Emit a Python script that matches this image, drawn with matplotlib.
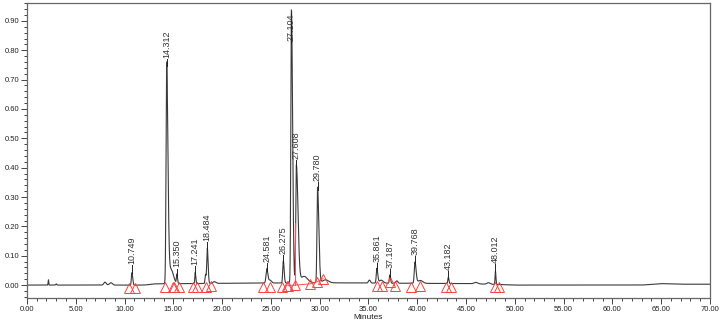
import numpy as np
import matplotlib
matplotlib.use("Agg")
import matplotlib.pyplot as plt
from matplotlib.ticker import MultipleLocator, FormatStrFormatter

plt.rcParams['font.family'] = ['Liberation Sans', 'DejaVu Sans']

# labelled peaks: retention time, height (AU), left / right width (min)
peak_rt = [10.749, 14.312, 15.350, 17.241, 18.484, 24.581, 26.275, 27.104,
           27.608, 29.780, 35.861, 37.187, 39.768, 43.182, 48.012]
peak_h = [0.042, 0.745, 0.030, 0.038, 0.120, 0.048, 0.075, 0.930,
          0.400, 0.325, 0.050, 0.028, 0.072, 0.022, 0.045]
peak_wl = [0.05, 0.06, 0.04, 0.04, 0.06, 0.08, 0.06, 0.06,
           0.06, 0.06, 0.06, 0.05, 0.07, 0.05, 0.04]
peak_wr = [0.08, 0.13, 0.07, 0.06, 0.08, 0.10, 0.08, 0.12,
           0.17, 0.13, 0.09, 0.07, 0.11, 0.06, 0.05]

# unlabelled bumps / tails / noise
bump_rt = [2.2, 3.0, 8.0, 8.6, 14.75, 18.3, 19.2, 24.9, 28.4, 30.6, 35.1,
           36.3, 37.9, 40.3, 46.0, 47.3]
bump_h = [0.018, 0.004, 0.010, 0.008, 0.050, 0.030, 0.006, 0.010, 0.022, 0.010,
          0.010, 0.010, 0.008, 0.010, 0.005, 0.005]
bump_w = [0.03, 0.05, 0.12, 0.15, 0.25, 0.05, 0.15, 0.15, 0.35, 0.3, 0.1,
          0.2, 0.1, 0.25, 0.2, 0.15]

# baseline drift
base_t = [0, 12, 13, 20, 30, 45, 48.5, 50, 63, 65, 67, 70]
base_v = [0.0, 0.0, 0.004, 0.006, 0.008, 0.005, 0.002, 0.0, 0.0, 0.005, 0.003, 0.003]

# integration marks (start / end of each peak)
tri_t = [10.5, 11.05, 14.15, 15.0, 15.05, 15.55, 17.0, 17.45, 18.4, 18.9,
         24.2, 24.9, 26.1, 26.7, 26.75, 27.45, 29.0, 29.7, 30.35,
         35.84, 36.35, 37.2, 37.7, 39.4, 40.28, 42.95, 43.5, 47.97, 48.4]
tri_y = [-0.010, -0.010, -0.007, -0.007, -0.007, -0.007, -0.008, -0.008, -0.005, -0.004,
         -0.006, -0.006, -0.006, -0.004, -0.002, 0.0, 0.004, 0.011, 0.022,
         -0.004, -0.004, 0.010, -0.004, -0.005, -0.002, -0.005, -0.005, -0.008, -0.008]

t = np.linspace(0, 70, 14001)
sig = np.interp(t, base_t, base_v)
for rt, h, wl, wr in zip(peak_rt, peak_h, peak_wl, peak_wr):
    w = np.where(t < rt, wl, wr)
    sig += h * np.exp(-0.5 * ((t - rt) / w) ** 2)
for rt, h, w in zip(bump_rt, bump_h, bump_w):
    sig += h * np.exp(-0.5 * ((t - rt) / w) ** 2)

fig = plt.figure(figsize=(7.21, 3.26), dpi=100)
ax = fig.add_axes([0.0374, 0.0859, 0.9473, 0.9049])

ax.plot(t, sig, color='#3a3a3a', lw=0.8)

# red baseline under the big pair
ax.plot([26.75, 27.45, 29.0, 29.7, 30.35], [-0.002, 0.0, 0.004, 0.011, 0.022],
        color='#ff5050', lw=0.7)
ax.plot([27.45, 27.45], [0.0, 0.21], color='#ff5050', lw=0.7)

ax.plot(tri_t, tri_y, ls='none', marker='^', ms=6.5, mfc='none',
        mec='#ff4040', mew=0.7)

for rt, h in zip(peak_rt, peak_h):
    y0 = min(h + 0.03, 0.83)
    ax.plot([rt, rt], [h, y0 - 0.004], color='#222222', lw=0.7)
    ax.text(rt, y0, '%.3f' % rt, rotation=90, ha='center', va='bottom',
            fontsize=6.5, color='#333333')

ax.set_xlim(0, 70)
ax.set_ylim(-0.044, 0.961)
ax.xaxis.set_major_locator(MultipleLocator(5))
ax.xaxis.set_minor_locator(MultipleLocator(1))
ax.yaxis.set_major_locator(MultipleLocator(0.1))
ax.yaxis.set_minor_locator(MultipleLocator(0.02))
ax.xaxis.set_major_formatter(FormatStrFormatter('%.2f'))
ax.yaxis.set_major_formatter(FormatStrFormatter('%.2f'))
ax.tick_params(which='both', direction='out', colors='#444444', labelsize=5.5,
               labelcolor='#222222', width=0.7)
ax.tick_params(which='major', length=4, pad=1.5)
ax.tick_params(which='minor', length=2.5)
for s in ax.spines.values():
    s.set_color('#666666')
    s.set_linewidth(0.9)

ax.set_xlabel('Minutes', fontsize=6, labelpad=1, color='#222222')
# y-axis title only partly visible at the left edge, as in the source image
fig.text(-0.004, 0.545, 'AU', fontsize=6, color='#4a7fc0', rotation=90,
         ha='center', va='center')

fig.savefig('out.png', dpi=100)
